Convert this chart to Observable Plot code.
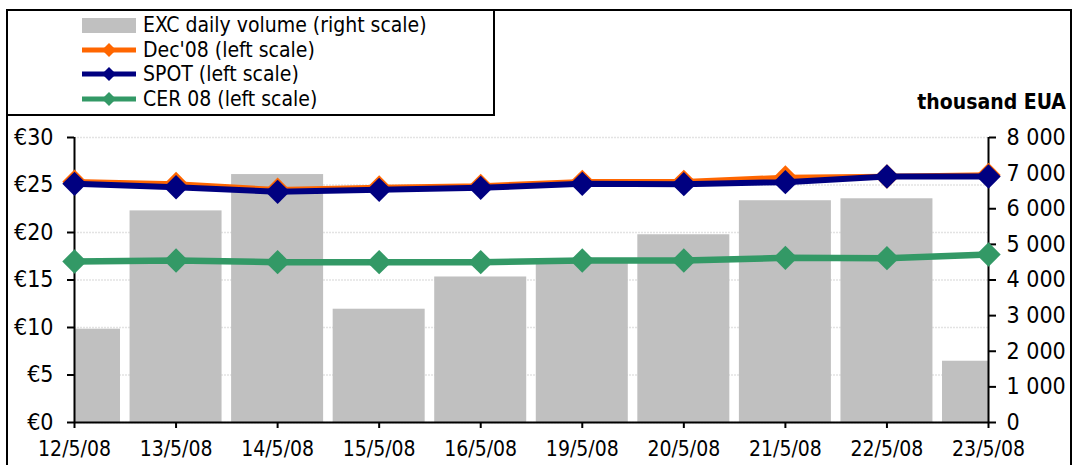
<!DOCTYPE html>
<html>
<head>
<meta charset="utf-8">
<script src="https://cdn.jsdelivr.net/npm/d3@7"></script>
<script src="https://cdn.jsdelivr.net/npm/@observablehq/plot@0.6"></script>
<style>
  html, body { margin: 0; padding: 0; background: #fff; overflow: hidden; }
  #wrap { position: relative; width: 1073px; height: 465px; overflow: hidden; background: #fff;
          font-family: "DejaVu Sans Condensed", "Liberation Sans", sans-serif; }
  #chart { position: absolute; left: 0; top: 0; }
  #frame { position: absolute; left: 6px; top: 9px; width: 1062px; height: 520px;
           border: 2px solid #000; border-bottom: none; pointer-events: none; }
  #legend { position: absolute; left: 6px; top: 9px; width: 487px; height: 105px;
            border-right: 2px solid #000; border-bottom: 2px solid #000; }
  .item { position: absolute; left: 76px; height: 24px; display: flex; align-items: center; }
  .item span { font-size: 21px; color: #000; margin-left: 7px; white-space: nowrap; }
  #unit { position: absolute; right: 7px; top: 90px; font-weight: bold; font-size: 21px; color: #000; }
</style>
</head>
<body>
<div id="wrap">
  <div id="chart"></div>
  <div id="frame"></div>
  <div id="legend"></div>
  <div id="unit">thousand EUA</div>
</div>
<script>
// ---- data ----
const dates = ["12/5/08","13/5/08","14/5/08","15/5/08","16/5/08","19/5/08","20/5/08","21/5/08","22/5/08","23/5/08"];
const volume = [2620, 5940, 6960, 3180, 4085, 4500, 5270, 6225, 6280, 1720]; // thousand EUA (right scale)
const dec08 = [25.35, 25.1, 24.5, 24.73, 24.9, 25.33, 25.33, 25.8, 25.9, 26.05];
const spot  = [25.12, 24.77, 24.28, 24.49, 24.7, 25.12, 25.09, 25.3, 25.9, 25.9];
const cer08 = [16.95, 17.05, 16.88, 16.88, 16.88, 17.05, 17.05, 17.33, 17.3, 17.68];
const leftTicks = [0, 5, 10, 15, 20, 25, 30];
const rightTicks = [0, 1000, 2000, 3000, 4000, 5000, 6000, 7000, 8000];
const leftMax = 30, rightMax = 8000;

const colors = { bar: "#C0C0C0", dec: "#FF6600", spot: "#000080", cer: "#339966" };
const seriesLegend = [
  { label: "EXC daily volume (right scale)", color: colors.bar, type: "bar" },
  { label: "Dec'08 (left scale)", color: colors.dec, type: "line" },
  { label: "SPOT (left scale)", color: colors.spot, type: "line" },
  { label: "CER 08 (left scale)", color: colors.cer, type: "line" }
];

// ---- tables ----
const idx = dates.map((d, i) => i);
const last = dates.length - 1;
const half = 0.453;
const bars = idx.map(i => ({
  x1: Math.max(0, i - half), x2: Math.min(last, i + half),
  y: volume[i] * leftMax / rightMax
}));
const mk = arr => idx.map(i => ({ x: i, y: arr[i] }));
const fmtThousands = v => String(Math.round(v)).replace(/\B(?=(\d{3})+(?!\d))/g, " ");

const font = "'DejaVu Sans Condensed', 'Liberation Sans', sans-serif";
const dotR = 11;

const plot = Plot.plot({
  width: 1073,
  height: 465,
  marginLeft: 74,
  marginRight: 85,
  marginTop: 137,
  marginBottom: 43,
  style: { background: "transparent", fontFamily: font, fontSize: "21px", color: "#000", overflow: "visible" },
  x: { type: "linear", domain: [0, last], axis: null },
  y: { domain: [0, leftMax], axis: null },
  marks: [
    Plot.ruleY(leftTicks, { stroke: "#e3e3e3", strokeWidth: 1.5, strokeDasharray: "2,1" }),
    Plot.rectY(bars, { x1: "x1", x2: "x2", y1: 0, y2: "y", fill: colors.bar }),
    // axes lines
    Plot.ruleX([0], { stroke: "#000", strokeWidth: 2 }),
    Plot.ruleX([last], { stroke: "#000", strokeWidth: 2 }),
    Plot.ruleY([0], { stroke: "#000", strokeWidth: 2 }),
    Plot.axisY({ anchor: "left", ticks: leftTicks, tickFormat: d => "€" + d, tickSize: 7, tickPadding: 14,
                 fontSize: 23, stroke: "#000", strokeWidth: 2, label: null }),
    Plot.axisY({ anchor: "right", ticks: rightTicks.map(v => v * leftMax / rightMax),
                 tickFormat: d => fmtThousands(d * rightMax / leftMax), tickSize: 7, tickPadding: 11,
                 fontSize: 23, stroke: "#000", strokeWidth: 2, label: null }),
    Plot.axisX({ ticks: idx, tickFormat: i => dates[i], tickSize: 6, tickPadding: 13,
                 fontSize: 21, stroke: "#000", strokeWidth: 2, label: null }),
    // lines
    Plot.line(mk(cer08), { x: "x", y: "y", stroke: colors.cer, strokeWidth: 6.5 }),
    Plot.dot(mk(cer08), { x: "x", y: "y", symbol: "diamond2", r: dotR, fill: colors.cer, stroke: null }),
    Plot.line(mk(dec08), { x: "x", y: "y", stroke: colors.dec, strokeWidth: 5.5 }),
    Plot.dot(mk(dec08), { x: "x", y: "y", symbol: "diamond2", r: dotR, fill: colors.dec, stroke: null }),
    Plot.line(mk(spot), { x: "x", y: "y", stroke: colors.spot, strokeWidth: 6 }),
    Plot.dot(mk(spot), { x: "x", y: "y", symbol: "diamond2", r: dotR, fill: colors.spot, stroke: null })
  ]
});
document.getElementById("chart").appendChild(plot);

// ---- legend ----
const legend = document.getElementById("legend");
seriesLegend.forEach((s, k) => {
  const div = document.createElement("div");
  div.className = "item";
  div.style.top = (4 + k * 24.5) + "px";
  let sw;
  if (s.type === "bar") {
    sw = `<svg width="54" height="24"><rect x="0" y="5" width="54" height="15" fill="${s.color}"/></svg>`;
  } else {
    sw = `<svg width="54" height="24"><line x1="0" x2="54" y1="12" y2="12" stroke="${s.color}" stroke-width="5"/>` +
         `<path d="M27,5 L34,12 L27,19 L20,12 Z" fill="${s.color}"/></svg>`;
  }
  div.innerHTML = sw + `<span>${s.label}</span>`;
  legend.appendChild(div);
});
</script>
</body>
</html>
